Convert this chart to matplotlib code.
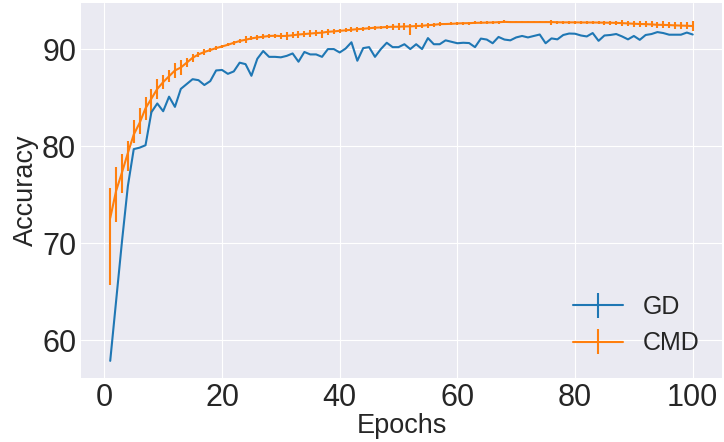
import numpy as np
import matplotlib
matplotlib.use("Agg")
import matplotlib.pyplot as plt

plt.style.use("seaborn-v0_8-darkgrid")
plt.rcParams['font.family'] = ['Liberation Sans', 'DejaVu Sans']

epochs = list(range(1, 101))

gd = [57.9, 64.05, 70.2, 75.9, 79.7, 79.85, 80.1, 83.5, 84.4, 83.6,
      85.1, 84.05, 85.9, 86.4, 86.9, 86.8, 86.3, 86.7, 87.8, 87.85,
      87.45, 87.7, 88.6, 88.45, 87.25, 89.0, 89.8, 89.2, 89.2, 89.15,
      89.3, 89.55, 88.7, 89.7, 89.45, 89.45, 89.2, 90.0, 90.0, 89.65,
      90.05, 90.7, 88.8, 90.1, 90.2, 89.2, 90.0, 90.65, 90.2, 90.2,
      90.5, 90.0, 90.5, 90.0, 91.13, 90.5, 90.5, 90.9, 90.75, 90.6,
      90.65, 90.62, 90.2, 91.08, 90.98, 90.6, 91.25, 90.98, 90.9, 91.2,
      91.35, 91.2, 91.35, 91.5, 90.6, 91.1, 91.0, 91.45, 91.6, 91.58,
      91.4, 91.3, 91.65, 90.85, 91.4, 91.45, 91.55, 91.3, 91.0, 91.35,
      90.95, 91.45, 91.55, 91.75, 91.65, 91.48, 91.48, 91.48, 91.7, 91.5]
gd_err = [0.0] * len(epochs)  # no visible spread for GD

cmd = [72.6, 75.4, 77.3, 79.3, 81.2, 82.4, 83.9, 84.9, 85.9, 86.6,
       87.2, 87.8, 88.1, 88.6, 89.1, 89.45, 89.7, 89.9, 90.1, 90.27,
       90.44, 90.65, 90.83, 90.96, 91.1, 91.2, 91.27, 91.35, 91.37, 91.34,
       91.36, 91.42, 91.5, 91.55, 91.6, 91.65, 91.69, 91.78, 91.82, 91.88,
       91.93, 91.99, 92.05, 92.09, 92.15, 92.2, 92.23, 92.27, 92.3, 92.3,
       92.33, 92.34, 92.37, 92.4, 92.46, 92.5, 92.57, 92.58, 92.6, 92.64,
       92.66, 92.67, 92.7, 92.71, 92.73, 92.74, 92.77, 92.8, 92.78, 92.78,
       92.78, 92.78, 92.78, 92.78, 92.78, 92.78, 92.76, 92.75, 92.75, 92.75,
       92.74, 92.74, 92.74, 92.73, 92.72, 92.71, 92.7, 92.67, 92.64, 92.61,
       92.58, 92.57, 92.54, 92.5, 92.49, 92.47, 92.44, 92.42, 92.4, 92.37]
# lower / upper error bar lengths for CMD
cmd_lo = [6.9, 3.2, 2.1, 1.9, 0.9, 1.1, 1.2, 1.6, 1.0, 0.7,
          0.6, 0.75, 0.8, 0.45, 0.4, 0.3, 0.3, 0.2, 0.2, 0.2,
          0.15, 0.2, 0.25, 0.35, 0.2, 0.25, 0.25, 0.25, 0.2, 0.3,
          0.4, 0.3, 0.4, 0.3, 0.35, 0.3, 0.6, 0.3, 0.25, 0.2,
          0.2, 0.25, 0.25, 0.2, 0.2, 0.2, 0.15, 0.2, 0.3, 0.35,
          0.35, 0.9, 0.35, 0.25, 0.25, 0.2, 0.2, 0.15, 0.15, 0.15,
          0.15, 0.15, 0.15, 0.15, 0.15, 0.15, 0.15, 0.15, 0.12, 0.12,
          0.12, 0.12, 0.12, 0.12, 0.12, 0.3, 0.15, 0.15, 0.15, 0.15,
          0.15, 0.15, 0.15, 0.15, 0.2, 0.2, 0.2, 0.3, 0.3, 0.3,
          0.3, 0.3, 0.3, 0.3, 0.35, 0.35, 0.35, 0.35, 0.35, 0.5]
cmd_hi = [3.1, 2.5, 1.9, 1.2, 1.5, 1.5, 1.2, 1.0, 1.0, 0.7,
          0.6, 0.75, 0.8, 0.5, 0.4, 0.3, 0.3, 0.2, 0.2, 0.2,
          0.15, 0.2, 0.25, 0.35, 0.2, 0.25, 0.25, 0.25, 0.2, 0.3,
          0.35, 0.3, 0.4, 0.3, 0.35, 0.3, 0.25, 0.3, 0.25, 0.2,
          0.2, 0.25, 0.25, 0.2, 0.2, 0.2, 0.15, 0.2, 0.3, 0.35,
          0.35, 0.25, 0.35, 0.25, 0.25, 0.2, 0.2, 0.15, 0.15, 0.15,
          0.15, 0.15, 0.15, 0.15, 0.15, 0.15, 0.15, 0.15, 0.12, 0.12,
          0.12, 0.12, 0.12, 0.12, 0.12, 0.2, 0.15, 0.15, 0.15, 0.15,
          0.15, 0.15, 0.15, 0.15, 0.2, 0.2, 0.2, 0.3, 0.3, 0.3,
          0.3, 0.3, 0.3, 0.3, 0.35, 0.35, 0.35, 0.35, 0.35, 0.5]

fig, ax = plt.subplots(figsize=(7.24, 4.42), dpi=100)
fig.subplots_adjust(left=0.112, right=0.997, top=0.993, bottom=0.145)

ax.errorbar(epochs, gd, yerr=gd_err, color='#1f77b4', lw=1.5, label='GD')
ax.errorbar(epochs, cmd, yerr=[cmd_lo, cmd_hi], color='#ff7f0e', lw=1.5, label='CMD')

ax.set_xlabel("Epochs", fontsize=19.5, color='.15', labelpad=0)
ax.set_ylabel("Accuracy", fontsize=19.5, color='.15', labelpad=2)
ax.tick_params(labelsize=22, colors='.15')
ax.set_xticks([0, 20, 40, 60, 80, 100])
ax.set_yticks([60, 70, 80, 90])
ax.legend(loc='lower right', fontsize=18, frameon=False)

fig.savefig("out.png", dpi=100)
